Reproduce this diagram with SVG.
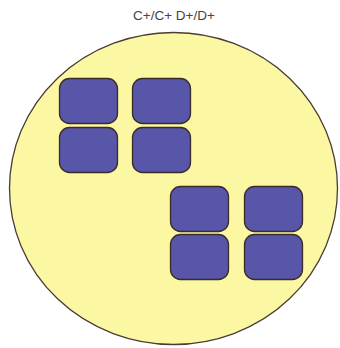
<svg xmlns="http://www.w3.org/2000/svg" width="340" height="348" viewBox="0 0 340 348">
<style>
.cell{fill:#5856a8;stroke:#3a2c28;stroke-width:1.3}
.dish{fill:#fbf7a2;stroke:#4a3c34;stroke-width:1.3}
.t{font-family:"Liberation Sans",Arial,sans-serif;font-size:13.5px;fill:#444}
</style>
<rect width="340" height="348" fill="#fff"/>
<text class="t" x="174" y="20" text-anchor="middle">C+/C+ D+/D+</text>
<g id="dish"><ellipse class="dish" cx="173.5" cy="188.5" rx="164" ry="156"/></g>
<g id="cell1"><rect class="cell" x="59.5" y="78.5" width="58" height="45" rx="10"/></g>
<g id="cell2"><rect class="cell" x="132.5" y="78.5" width="58" height="45" rx="10"/></g>
<g id="cell3"><rect class="cell" x="59.5" y="127.5" width="58" height="45" rx="10"/></g>
<g id="cell4"><rect class="cell" x="132.5" y="127.5" width="58" height="45" rx="10"/></g>
<g id="cell5"><rect class="cell" x="170.5" y="186.5" width="58" height="45" rx="10"/></g>
<g id="cell6"><rect class="cell" x="244.5" y="186.5" width="58" height="45" rx="10"/></g>
<g id="cell7"><rect class="cell" x="170.5" y="234.5" width="58" height="45" rx="10"/></g>
<g id="cell8"><rect class="cell" x="244.5" y="234.5" width="58" height="45" rx="10"/></g>
</svg>
